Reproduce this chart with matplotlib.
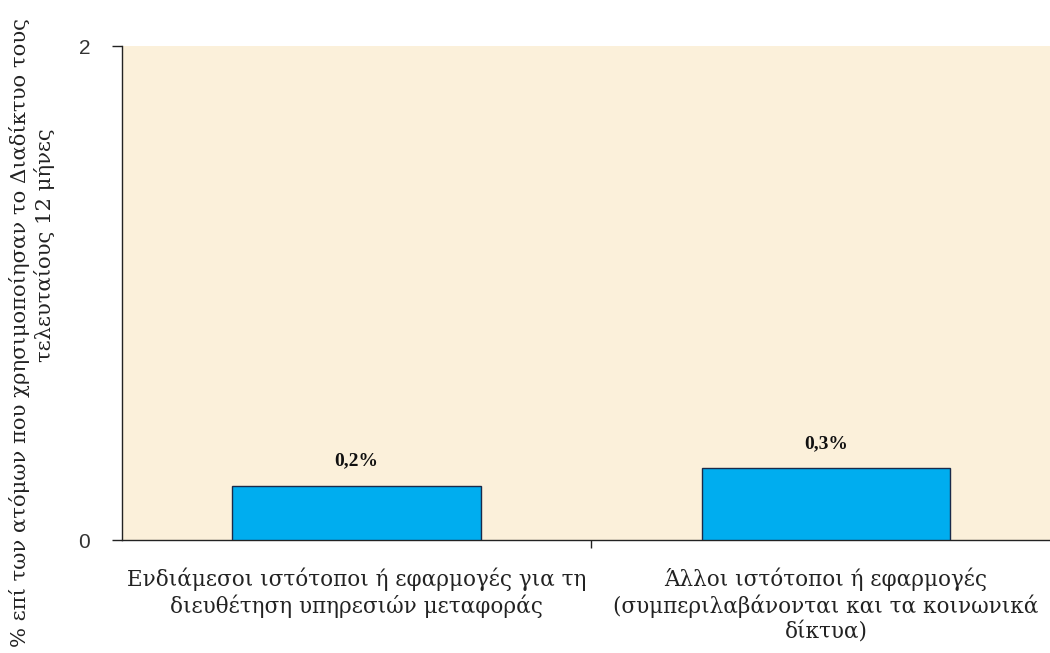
import matplotlib
matplotlib.use("Agg")
import matplotlib.pyplot as plt

categories = [
    "Ενδιάμεσοι ιστότοποι ή εφαρμογές για τη\nδιευθέτηση υπηρεσιών μεταφοράς",
    "Άλλοι ιστότοποι ή εφαρμογές\n(συμπεριλαβάνονται και τα κοινωνικά\nδίκτυα)",
]
values = [0.22, 0.29]
value_labels = ["0,2%", "0,3%"]
y_ticks = [0, 2]
y_label_lines = ["% επί των ατόμων που χρησιμοποίησαν το Διαδίκτυο τους",
                 "τελευταίους 12 μήνες"]

plt.rcParams['font.family'] = ['DejaVu Serif', 'Liberation Serif']

fig = plt.figure(figsize=(10.5, 6.53), dpi=100)
ax = fig.add_axes([0.1162, 0.173, 0.894, 0.7565])
ax.set_facecolor("#fbf0da")

x = list(range(len(categories)))
ax.bar(x, values, width=0.53, color="#00adef", edgecolor="#1a2a4a", linewidth=1.0, zorder=3)
for xi, v, lab in zip(x, values, value_labels):
    ax.text(xi, v + 0.065, lab, ha="center", va="bottom", fontsize=14, fontweight="bold",
            color="#111111", family=['Liberation Serif', 'DejaVu Serif'])

ax.set_xlim(-0.5, 1.5)
ax.set_ylim(0, 2)
ax.set_yticks(y_ticks)
ax.set_yticklabels([str(t) for t in y_ticks], fontsize=15, color="#333333",
                   family=['Liberation Sans', 'DejaVu Sans'])
ax.tick_params(axis="y", length=7, width=1, color="#222222", pad=16)

ax.set_xticks(x)
ax.set_xticklabels(categories, fontsize=15.5, color="#222222", linespacing=1.15)
ax.tick_params(axis="x", length=0, pad=20)
ax.set_xticks([0.5], minor=True)
ax.tick_params(axis="x", which="minor", length=6, width=1, color="#222222")

for s in ["top", "right"]:
    ax.spines[s].set_visible(False)
for s in ["left", "bottom"]:
    ax.spines[s].set_color("#222222")
    ax.spines[s].set_linewidth(1.0)

fig.text(20 / 1050, 1 - 333 / 653, y_label_lines[0], rotation=90, ha="center", va="center",
         fontsize=15.2, color="#222222")
fig.text(45 / 1050, 1 - 245 / 653, y_label_lines[1], rotation=90, ha="center", va="center",
         fontsize=15.2, color="#222222")

fig.savefig("out.png", dpi=100)
